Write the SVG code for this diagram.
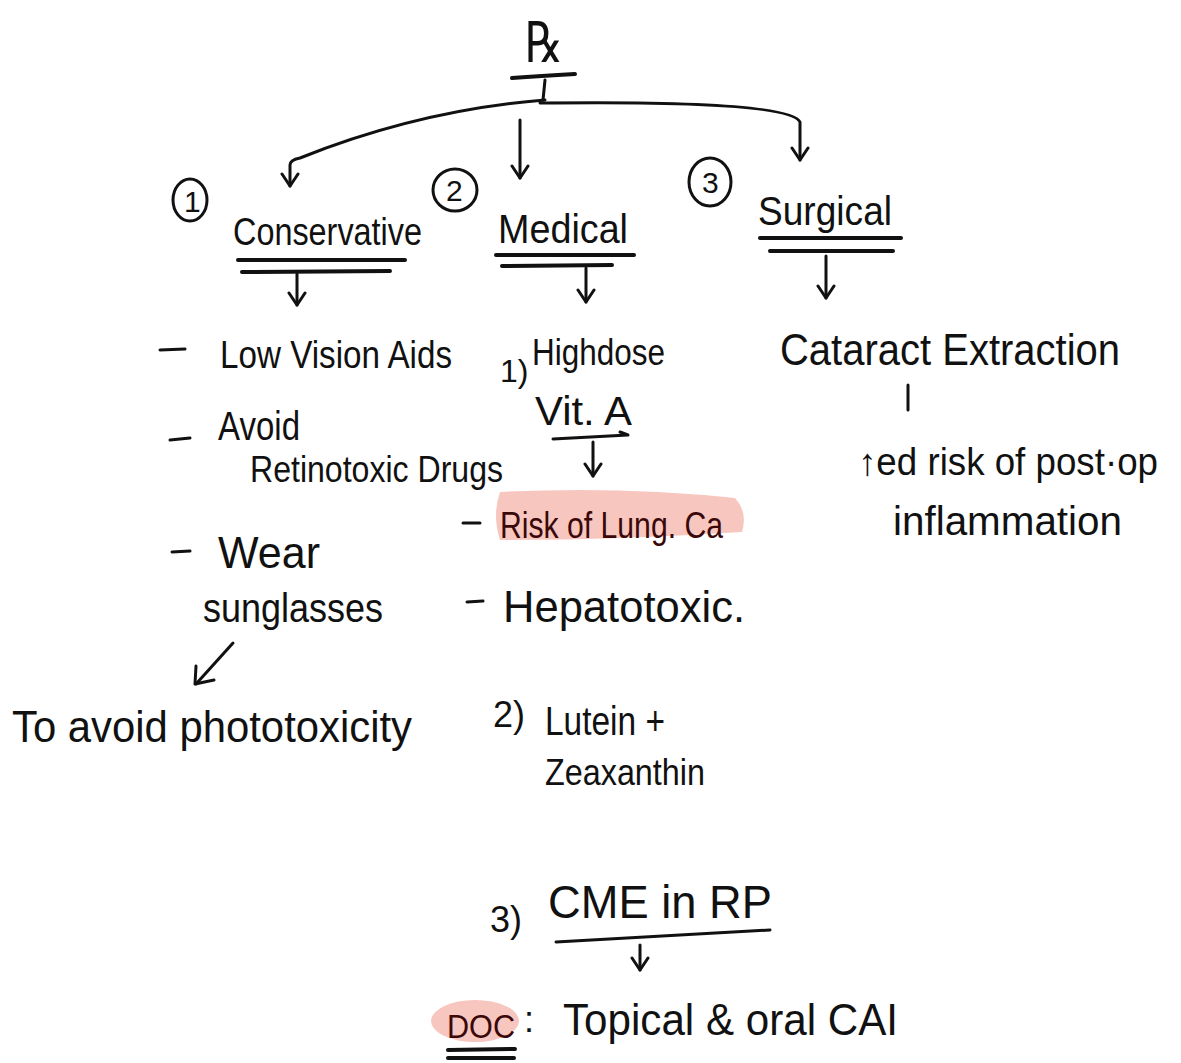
<svg xmlns="http://www.w3.org/2000/svg" width="1181" height="1063" viewBox="0 0 1181 1063">
<style>
text{font-family:"Liberation Sans","DejaVu Sans",sans-serif;fill:#111}
.h{font-size:44px}
.m{font-size:40px}
.s{font-size:36px}
.red{fill:#3a0808}
.ln{stroke:#111;stroke-width:3;fill:none;stroke-linecap:round;stroke-linejoin:round}
.ul{stroke:#111;stroke-width:4;fill:none;stroke-linecap:round}
.hl{fill:#f7c6bf}
</style>
<defs>
<marker id="ah" viewBox="0 0 20 20" refX="17" refY="10" markerWidth="20" markerHeight="20" markerUnits="userSpaceOnUse" orient="auto">
<path d="M5 2 L17 10 L5 18" fill="none" stroke="#111" stroke-width="3" stroke-linecap="round" stroke-linejoin="round"/>
</marker>
</defs>
<rect width="1181" height="1063" fill="#fff"/>

<g id="connectors">
<path class="ln" d="M545 80 L543 100"/>
<path class="ln" d="M545 100 Q420 110 300 158 Q290 160 290 165 L290 186" marker-end="url(#ah)"/>
<path class="ln" d="M540 103 Q790 100 800 122 L800 160" marker-end="url(#ah)"/>
<path class="ln" d="M520 120 L520 178" marker-end="url(#ah)"/>
<path class="ln" d="M297 274 L297 305" marker-end="url(#ah)"/>
<path class="ln" d="M586 268 L586 302" marker-end="url(#ah)"/>
<path class="ln" d="M826 256 L826 298" marker-end="url(#ah)"/>
<path class="ln" d="M593 442 L593 476" marker-end="url(#ah)"/>
<path class="ln" d="M908 385 L908 410"/>
<path class="ln" d="M233 643 L196 684"/>
<path class="ln" d="M196 666 L195 684 L214 680"/>
<path class="ln" d="M640 945 L640 970" marker-end="url(#ah)"/>
</g>

<g id="rx">
<text x="525" y="62" style="font-size:56px" textLength="38" lengthAdjust="spacingAndGlyphs">℞</text>
<path class="ul" d="M512 78 Q540 76 575 74"/>
</g>

<g id="conservative">
<ellipse class="ln" cx="190" cy="200" rx="17" ry="21"/>
<text x="184" y="212" style="font-size:30px">1</text>
<text x="233" y="245" style="font-size:38px" textLength="189" lengthAdjust="spacingAndGlyphs">Conservative</text>
<path class="ul" d="M238 260 L405 260"/>
<path class="ul" d="M242 272 L390 271"/>
</g>

<g id="medical">
<ellipse class="ln" cx="455" cy="190" rx="22" ry="21"/>
<text x="446" y="201" style="font-size:30px">2</text>
<text x="498" y="243" class="m" textLength="130" lengthAdjust="spacingAndGlyphs">Medical</text>
<path class="ul" d="M496 255 L634 255"/>
<path class="ul" d="M502 266 L612 265"/>
</g>

<g id="surgical">
<ellipse class="ln" cx="710" cy="182" rx="21" ry="24"/>
<text x="702" y="193" style="font-size:30px">3</text>
<text x="758" y="225" class="m" textLength="134" lengthAdjust="spacingAndGlyphs">Surgical</text>
<path class="ul" d="M760 238 L901 238"/>
<path class="ul" d="M770 251 L893 251"/>
</g>

<g id="low-vision">
<path class="ln" d="M160 350 L185 349"/>
<text x="220" y="368" style="font-size:38px" textLength="232" lengthAdjust="spacingAndGlyphs">Low Vision Aids</text>
</g>

<g id="avoid-drugs">
<path class="ln" d="M170 440 L190 438"/>
<text x="218" y="440" class="m" textLength="82" lengthAdjust="spacingAndGlyphs">Avoid</text>
<text x="250" y="482" class="s" textLength="253" lengthAdjust="spacingAndGlyphs">Retinotoxic Drugs</text>
</g>

<g id="sunglasses">
<path class="ln" d="M172 552 L190 551"/>
<text x="218" y="568" class="h" textLength="102" lengthAdjust="spacingAndGlyphs">Wear</text>
<text x="203" y="622" class="m" textLength="180" lengthAdjust="spacingAndGlyphs">sunglasses</text>
</g>

<g id="phototoxicity">
<text x="12" y="742" class="h" textLength="400" lengthAdjust="spacingAndGlyphs">To avoid phototoxicity</text>
</g>

<g id="vit-a">
<text x="500" y="382" style="font-size:32px">1)</text>
<text x="532" y="365" style="font-size:36px" textLength="133" lengthAdjust="spacingAndGlyphs">Highdose</text>
<text x="535" y="425" class="m" textLength="97" lengthAdjust="spacingAndGlyphs">Vit. A</text>
<path class="ln" d="M553 439 L628 435 L620 432"/>
</g>

<g id="lung-ca">
<path class="ln" d="M463 523 L480 523"/>
<path class="hl" d="M500 492 Q620 486 735 498 Q748 512 742 532 Q620 540 500 540 Q492 515 500 492 Z"/>
<text x="500" y="538" style="font-size:36px" class="red" textLength="223" lengthAdjust="spacingAndGlyphs">Risk of Lung. Ca</text>
</g>

<g id="hepatotoxic">
<path class="ln" d="M467 602 L483 601"/>
<text x="503" y="622" class="h" textLength="242" lengthAdjust="spacingAndGlyphs">Hepatotoxic.</text>
</g>

<g id="lutein">
<text x="493" y="727" class="s">2)</text>
<text x="545" y="735" class="m" textLength="120" lengthAdjust="spacingAndGlyphs">Lutein +</text>
<text x="545" y="785" class="s" textLength="160" lengthAdjust="spacingAndGlyphs">Zeaxanthin</text>
</g>

<g id="cme">
<text x="490" y="932" class="s">3)</text>
<text x="548" y="918" style="font-size:46px" textLength="224" lengthAdjust="spacingAndGlyphs">CME in RP</text>
<path class="ln" d="M556 942 Q660 936 770 930"/>
</g>

<g id="doc">
<ellipse class="hl" cx="475" cy="1021" rx="44" ry="21"/>
<text x="447" y="1038" style="font-size:34px" class="red" textLength="68" lengthAdjust="spacingAndGlyphs">DOC</text>
<path class="ul" d="M448 1050 L515 1049"/>
<path class="ul" d="M448 1058 L514 1058"/>
<text x="524" y="1032" class="s">:</text>
<text x="563" y="1035" class="h" textLength="335" lengthAdjust="spacingAndGlyphs">Topical &amp; oral CAI</text>
</g>

<g id="cataract">
<text x="780" y="365" class="h" textLength="340" lengthAdjust="spacingAndGlyphs">Cataract Extraction</text>
</g>

<g id="inflammation">
<text x="858" y="475" style="font-size:38px" textLength="300" lengthAdjust="spacingAndGlyphs">↑ed risk of post·op</text>
<text x="893" y="535" class="m" textLength="229" lengthAdjust="spacingAndGlyphs">inflammation</text>
</g>
</svg>
